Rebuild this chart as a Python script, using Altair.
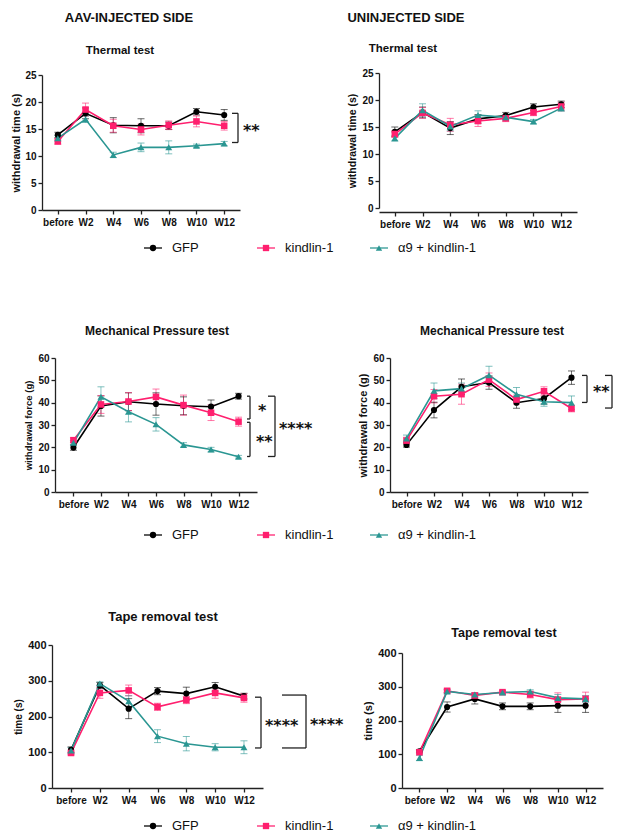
import altair as alt
import pandas as pd

TIMES = ["before", "W2", "W4", "W6", "W8", "W10", "W12"]
GROUPS = ["GFP", "kindlin-1", "α9 + kindlin-1"]
COLORS = ["#000000", "#FF1F6E", "#2A9692"]
SHAPES = ["circle", "square", "triangle-up"]
HEADERS = ["AAV-INJECTED SIDE", "UNINJECTED SIDE"]

# Thermal test (withdrawal time, s)
THERM_INJ_GFP = [13.9, 17.9, 15.7, 15.6, 15.6, 18.2, 17.6]
THERM_INJ_GFP_SEM = [0.5, 1.0, 1.4, 1.3, 0.7, 0.6, 1.0]
THERM_INJ_KIN = [12.7, 18.6, 15.6, 14.9, 15.7, 16.4, 15.6]
THERM_INJ_KIN_SEM = [0.5, 1.2, 1.2, 1.0, 0.8, 1.0, 0.8]
THERM_INJ_A9 = [13.3, 16.8, 10.2, 11.6, 11.6, 11.9, 12.3]
THERM_INJ_A9_SEM = [0.5, 0.6, 0.5, 0.8, 1.2, 0.3, 0.4]

THERM_UNI_GFP = [14.1, 17.7, 14.8, 16.5, 17.1, 18.7, 19.2]
THERM_UNI_GFP_SEM = [0.9, 1.0, 1.2, 0.8, 0.6, 0.6, 0.6]
THERM_UNI_KIN = [13.7, 17.6, 15.4, 16.1, 16.6, 17.7, 18.8]
THERM_UNI_KIN_SEM = [0.6, 1.0, 1.2, 1.0, 0.6, 0.6, 0.8]
THERM_UNI_A9 = [12.9, 18.1, 15.1, 17.2, 16.8, 16.0, 18.5]
THERM_UNI_A9_SEM = [0.5, 1.2, 0.8, 0.8, 0.5, 0.4, 0.6]

# Mechanical pressure test (withdrawal force, g)
MECH_INJ_GFP = [19.9, 38.5, 40.4, 39.4, 38.6, 38.2, 42.9]
MECH_INJ_GFP_SEM = [1.2, 4.5, 4.0, 5.0, 4.0, 3.0, 1.3]
MECH_INJ_KIN = [23.2, 39.2, 40.5, 42.6, 38.9, 35.5, 31.5]
MECH_INJ_KIN_SEM = [1.0, 4.0, 4.0, 3.5, 4.5, 3.5, 2.0]
MECH_INJ_A9 = [22.0, 42.6, 35.9, 30.3, 21.1, 19.0, 15.8]
MECH_INJ_A9_SEM = [1.0, 4.5, 4.5, 3.0, 1.0, 1.0, 0.6]

MECH_UNI_GFP = [21.1, 36.7, 47.1, 49.0, 40.0, 41.9, 51.2]
MECH_UNI_GFP_SEM = [1.0, 3.5, 3.5, 3.0, 2.5, 2.5, 3.0]
MECH_UNI_KIN = [23.0, 42.9, 43.8, 50.3, 41.4, 45.1, 37.4]
MECH_UNI_KIN_SEM = [1.5, 3.0, 4.5, 3.0, 2.0, 2.0, 1.5]
MECH_UNI_A9 = [24.0, 45.3, 46.3, 52.3, 43.8, 40.4, 40.0]
MECH_UNI_A9_SEM = [1.5, 3.5, 2.5, 4.0, 3.0, 2.0, 3.0]

# Tape removal test (time, s)
TAPE_INJ_GFP = [107, 287, 222, 271, 264, 283, 257]
TAPE_INJ_GFP_SEM = [8, 8, 28, 10, 18, 12, 8]
TAPE_INJ_KIN = [98, 266, 273, 227, 246, 266, 252]
TAPE_INJ_KIN_SEM = [5, 15, 15, 10, 10, 15, 12]
TAPE_INJ_A9 = [105, 292, 243, 145, 124, 114, 114]
TAPE_INJ_A9_SEM = [8, 5, 15, 18, 20, 10, 18]

TAPE_UNI_GFP = [109, 240, 264, 242, 242, 244, 244]
TAPE_UNI_GFP_SEM = [5, 15, 15, 10, 10, 20, 20]
TAPE_UNI_KIN = [106, 288, 274, 284, 277, 262, 264]
TAPE_UNI_KIN_SEM = [5, 5, 8, 5, 10, 20, 20]
TAPE_UNI_A9 = [89, 286, 277, 283, 286, 267, 264]
TAPE_UNI_A9_SEM = [8, 5, 5, 5, 5, 10, 10]

# Significance brackets: (top, bottom, label)
BR_THERM_INJ = [(17.9, 12.5, "**")]
BR_MECH_INJ = [(42.9, 32.7, "*"), (31.2, 15.9, "**"), (42.9, 15.9, "****")]
BR_MECH_UNI = [(52.2, 40.1, "**"), (52.2, 37.6, "")]
BR_TAPE_INJ = [(254, 112, "****"), (260, 112, "****")]

FONT = "Liberation Sans"
AX = "#222222"
TXT = "#111111"
DUMMY = pd.DataFrame({"k": [0]})


def series_df(series):
    rows = []
    for g, means, sems in series:
        for t, m, s in zip(TIMES, means, sems):
            rows.append({"time": t, "group": g, "mean": m, "lo": m - s, "hi": m + s})
    return pd.DataFrame(rows)


def panel(series, ymax, ystep, w, h, xr, yr, ytitle, ytitle_size, tick_size, title,
          title_size, title_dx, title_off, brackets=(), styles=(), xpad=0.6, tpad=4):
    df = series_df(series)
    yaxis = alt.Axis(title=ytitle, titleFontSize=ytitle_size, titleFont=FONT,
                     titleFontWeight="bold", titleColor=TXT, titlePadding=tpad,
                     values=list(range(0, ymax + 1, ystep)), labelFont=FONT,
                     labelFontWeight="bold", labelFontSize=tick_size, labelColor=TXT,
                     grid=False, domainColor=AX, domainWidth=1.3, tickColor=AX,
                     tickWidth=1.3, tickSize=4, labelPadding=2, offset=-xr[0])
    yscale = alt.Scale(domain=[0, ymax], nice=False, range=list(yr))
    x = alt.X("time:N", sort=TIMES,
              scale=alt.Scale(type="point", domain=TIMES, padding=xpad, range=list(xr)),
              axis=alt.Axis(title=None, labelAngle=0, labelFont=FONT,
                            labelFontWeight="bold", labelFontSize=10, labelColor=TXT,
                            domainColor=AX, domainWidth=1.3, tickColor=AX,
                            tickWidth=1.3, tickSize=4, labelPadding=3, grid=False,
                            offset=h - yr[0]))
    color = alt.Color("group:N", scale=alt.Scale(domain=GROUPS, range=COLORS), legend=None)
    shape = alt.Shape("group:N", scale=alt.Scale(domain=GROUPS, range=SHAPES), legend=None)
    size = alt.Size("group:N", scale=alt.Scale(domain=GROUPS, range=[38, 48, 40]), legend=None)
    base = alt.Chart(df).encode(x=x, color=color)
    err = base.mark_rule(strokeWidth=1, opacity=0.55).encode(
        y=alt.Y("lo:Q", scale=yscale, axis=yaxis), y2="hi:Q")
    cap_lo = base.mark_tick(orient="horizontal", size=7, thickness=1, opacity=0.6).encode(
        y=alt.Y("lo:Q", scale=yscale, axis=yaxis))
    cap_hi = base.mark_tick(orient="horizontal", size=7, thickness=1, opacity=0.6).encode(
        y=alt.Y("hi:Q", scale=yscale, axis=yaxis))
    line = base.mark_line(strokeWidth=1.6).encode(
        y=alt.Y("mean:Q", scale=yscale, axis=yaxis), detail="group:N")
    pts = base.mark_point(filled=True, opacity=1).encode(
        y=alt.Y("mean:Q", scale=yscale, axis=yaxis), shape=shape, size=size)
    layers = [err, cap_lo, cap_hi, line, pts]
    for (top, bot, label), (xv, xt, xtext) in zip(brackets, styles):
        bdf = pd.DataFrame({"top": [top], "bot": [bot], "mid": [(top + bot) / 2], "label": [label]})
        bc = alt.Chart(bdf)
        layers.append(bc.mark_rule(color=AX, strokeWidth=1.3).encode(
            x=alt.value(xv), y=alt.Y("top:Q", scale=yscale, axis=yaxis), y2="bot:Q"))
        layers.append(bc.mark_rule(color=AX, strokeWidth=1.3).encode(
            x=alt.value(xt), x2=alt.value(xv), y=alt.Y("top:Q", scale=yscale, axis=yaxis)))
        layers.append(bc.mark_rule(color=AX, strokeWidth=1.3).encode(
            x=alt.value(xt), x2=alt.value(xv), y=alt.Y("bot:Q", scale=yscale, axis=yaxis)))
        if label:
            layers.append(bc.mark_text(align="left", baseline="alphabetic", dy=8,
                                       font="DejaVu Sans", fontWeight="bold", fontSize=16,
                                       color=TXT).encode(
                x=alt.value(xtext), y=alt.Y("mid:Q", scale=yscale, axis=yaxis), text="label:N"))
    return alt.layer(*layers).properties(
        width=w, height=h,
        title=alt.TitleParams(title, font=FONT, fontSize=title_size, fontWeight="bold",
                              color=TXT, anchor="middle", frame="group", offset=title_off,
                              dx=title_dx))


def spacer(w, h):
    return alt.Chart(DUMMY).mark_point(opacity=0, size=1).encode(
        x=alt.value(2), y=alt.value(2)).properties(width=w, height=h)


def header_cell(w, h, label, xrel, yrel):
    df = pd.DataFrame({"label": [label]})
    return alt.Chart(df).mark_text(align="center", baseline="alphabetic", font=FONT,
                                   fontWeight="bold", fontSize=13, color=TXT).encode(
        x=alt.value(xrel), y=alt.value(yrel), text="label:N").properties(width=w, height=h)


def legend_cell(w, h, yrel):
    df = pd.DataFrame({"group": GROUPS})
    x = alt.X("group:N", sort=GROUPS,
              scale=alt.Scale(type="point", domain=GROUPS, padding=0, range=[111, 337]),
              axis=None)
    color = alt.Color("group:N", scale=alt.Scale(domain=GROUPS, range=COLORS), legend=None)
    shape = alt.Shape("group:N", scale=alt.Scale(domain=GROUPS, range=SHAPES), legend=None)
    base = alt.Chart(df).encode(x=x, y=alt.value(yrel))
    ln = base.mark_tick(orient="horizontal", size=18, thickness=1.8).encode(color=color)
    pt = base.mark_point(filled=True, opacity=1, size=40).encode(color=color, shape=shape)
    tx = base.mark_text(align="left", baseline="middle", dx=19, font=FONT,
                        fontSize=13, color=TXT).encode(text="group:N")
    return alt.layer(ln, pt, tx).properties(width=w, height=h)


therm_l = panel([(GROUPS[0], THERM_INJ_GFP, THERM_INJ_GFP_SEM),
                 (GROUPS[1], THERM_INJ_KIN, THERM_INJ_KIN_SEM),
                 (GROUPS[2], THERM_INJ_A9, THERM_INJ_A9_SEM)],
                25, 5, 198, 137, (0, 198), (137, 2), "withdrawal time (s)", 11, 10,
                "Thermal test", 11.5, -21, 13.5,
                BR_THERM_INJ, [(196, 190, 201)], xpad=0.57, tpad=3)
therm_r = panel([(GROUPS[0], THERM_UNI_GFP, THERM_UNI_GFP_SEM),
                 (GROUPS[1], THERM_UNI_KIN, THERM_UNI_KIN_SEM),
                 (GROUPS[2], THERM_UNI_A9, THERM_UNI_A9_SEM)],
                25, 5, 198, 137, (0, 198), (135, 0), "withdrawal time (s)", 10.5, 10,
                "Thermal test", 11.5, -75, 13.5, xpad=0.57)
mech_l = panel([(GROUPS[0], MECH_INJ_GFP, MECH_INJ_GFP_SEM),
                (GROUPS[1], MECH_INJ_KIN, MECH_INJ_KIN_SEM),
                (GROUPS[2], MECH_INJ_A9, MECH_INJ_A9_SEM)],
               60, 10, 215, 134, (13, 215), (134, 0), "withdrawal force (g)", 9.5, 10,
               "Mechanical Pressure test", 12, 7.5, 15.5,
               BR_MECH_INJ, [(208, 205, 216), (208, 205, 214), (233, 226, 237)], xpad=0.67)
mech_r = panel([(GROUPS[0], MECH_UNI_GFP, MECH_UNI_GFP_SEM),
                (GROUPS[1], MECH_UNI_KIN, MECH_UNI_KIN_SEM),
                (GROUPS[2], MECH_UNI_A9, MECH_UNI_A9_SEM)],
               60, 10, 209, 134, (11, 209), (134, 0), "withdrawal force (g)", 11, 10,
               "Mechanical Pressure test", 12, 8.5, 15.5,
               BR_MECH_UNI, [(208, 203, 214), (233, 226, 240)], xpad=0.6)
tape_l = panel([(GROUPS[0], TAPE_INJ_GFP, TAPE_INJ_GFP_SEM),
                (GROUPS[1], TAPE_INJ_KIN, TAPE_INJ_KIN_SEM),
                (GROUPS[2], TAPE_INJ_A9, TAPE_INJ_A9_SEM)],
               400, 100, 221, 143, (10, 221), (143, 0), "time (s)", 10, 11,
               "Tape removal test", 13, 10.5, 15.3,
               BR_TAPE_INJ, [(219, 213, 223), (264, 240, 268)], xpad=0.66)
tape_r = panel([(GROUPS[0], TAPE_UNI_GFP, TAPE_UNI_GFP_SEM),
                (GROUPS[1], TAPE_UNI_KIN, TAPE_UNI_KIN_SEM),
                (GROUPS[2], TAPE_UNI_A9, TAPE_UNI_A9_SEM)],
               400, 100, 224, 143, (23, 224), (143, 8), "time (s)", 11, 11,
               "Tape removal test", 12.5, 13, 5.7, xpad=0.63)

cells = [
    spacer(34, 1), header_cell(198, 65, HEADERS[0], 87, 14), spacer(116, 1), header_cell(198, 65, HEADERS[1], 27, 14),
    spacer(34, 1), therm_l, spacer(116, 1), therm_r,
    spacer(34, 1), legend_cell(200, 148, 38), spacer(116, 1), spacer(1, 148),
    spacer(34, 1), mech_l, spacer(116, 1), mech_r,
    spacer(34, 1), legend_cell(200, 153, 43), spacer(116, 1), spacer(1, 153),
    spacer(34, 1), tape_l, spacer(116, 1), tape_r,
    spacer(34, 1), legend_cell(200, 30, 38), spacer(116, 1), spacer(1, 1),
]

chart = alt.concat(*cells, columns=4, spacing=0, bounds="flush", align="each").resolve_scale(
    x="independent", y="independent", color="independent", shape="independent", size="independent"
).properties(padding={"left": 0, "top": 0, "right": 0, "bottom": 0}).configure_view(stroke=None)

chart.save("out.html", embed_options={"renderer": "svg", "actions": False})
